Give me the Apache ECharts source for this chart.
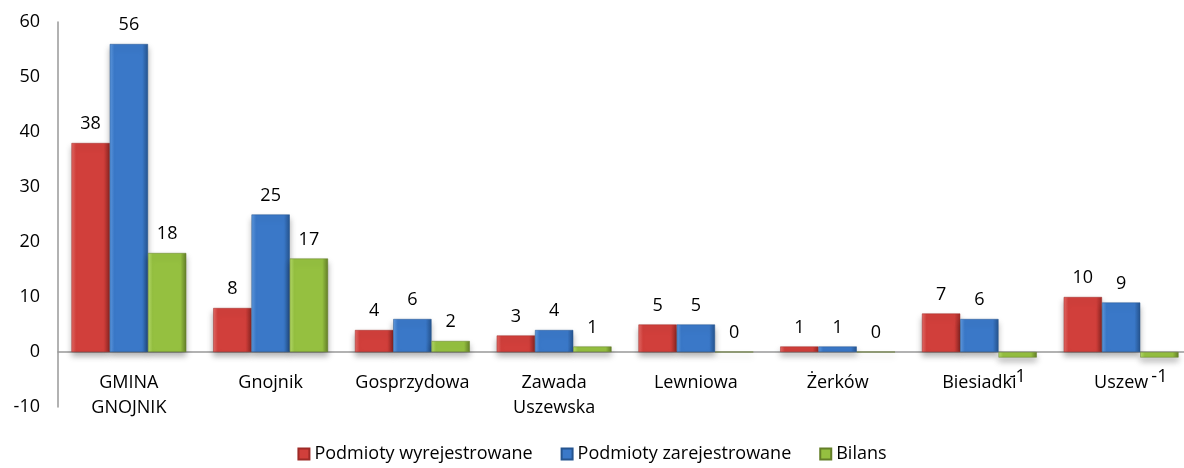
<!DOCTYPE html>
<html>
<head>
<meta charset="utf-8">
<script src="https://cdn.jsdelivr.net/npm/echarts@6/dist/echarts.min.js"></script>
<style>
html,body{margin:0;padding:0;background:#fff;}
#chart{width:1184px;height:468px;}
</style>
</head>
<body>
<div id="chart"></div>
<script>
const categories = ['GMINA\nGNOJNIK', 'Gnojnik', 'Gosprzydowa', 'Zawada\nUszewska', 'Lewniowa', 'Żerków', 'Biesiadki', 'Uszew'];
const wyrejestrowane = [38, 8, 4, 3, 5, 1, 7, 10];
const zarejestrowane = [56, 25, 6, 4, 5, 1, 6, 9];
const bilans = [18, 17, 2, 1, 0, 0, -1, -1];
const seriesNames = ['Podmioty wyrejestrowane', 'Podmioty zarejestrowane', 'Bilans'];
const yTicks = { min: -10, max: 60, interval: 10 };

const FONT = '"Open Sans", "Noto Sans", sans-serif';
const FS = 18;
const GRID_TOP = 22, GRID_H = 385;
const zeroOffset = -GRID_H * (0 - yTicks.min) / (yTicks.max - yTicks.min);

function grad(light, mid, dark) {
  return new echarts.graphic.LinearGradient(0, 0, 1, 0, [
    { offset: 0, color: light },
    { offset: 0.12, color: mid },
    { offset: 0.85, color: mid },
    { offset: 1, color: dark }
  ]);
}
const styles = [
  { fill: grad('#e46a66', '#d13f3b', '#9e2a27'), border: '#9e2a27', icon: '#d13f3b' },
  { fill: grad('#5f9ae0', '#3a78c8', '#25548f'), border: '#25548f', icon: '#3a78c8' },
  { fill: grad('#b5dc6a', '#95c040', '#647f28'), border: '#647f28', icon: '#95c040' }
];

function makeData(arr) {
  return arr.map(v => ({
    value: v,
    label: { position: v < 0 ? 'bottom' : 'top', distance: v < 0 ? 10 : 10 }
  }));
}

const seriesData = [wyrejestrowane, zarejestrowane, bilans];
const series = seriesData.map((arr, i) => ({
  name: seriesNames[i],
  type: 'bar',
  data: makeData(arr),
  barGap: '0%',
  barCategoryGap: '19%',
  itemStyle: {
    color: styles[i].fill,
    borderColor: styles[i].border,
    borderWidth: 0.5,
    shadowBlur: 6,
    shadowColor: 'rgba(0,0,0,0.3)',
    shadowOffsetY: 4
  },
  label: {
    show: true,
    color: '#000',
    fontSize: FS,
    fontFamily: FONT
  }
}));

const chart = echarts.init(document.getElementById('chart'), null, { renderer: 'canvas' });
chart.setOption({
  animation: false,
  backgroundColor: '#fff',
  color: styles.map(s => s.icon),
  textStyle: { fontFamily: FONT },
  grid: { left: 58, top: GRID_TOP, width: 1134, height: GRID_H, containLabel: false, outerBoundsMode: 'none' },
  legend: {
    bottom: 0,
    left: 'center',
    itemWidth: 11,
    itemHeight: 11,
    itemGap: 28,
    icon: 'rect',
    textStyle: { fontSize: FS, color: '#000', fontFamily: FONT },
    data: seriesNames
  },
  xAxis: {
    type: 'category',
    data: categories,
    position: 'bottom',
    offset: zeroOffset,
    axisLine: { onZero: false, lineStyle: { color: '#999', width: 1.5 } },
    axisTick: { show: false },
    axisLabel: { fontSize: FS, color: '#000', margin: 18, lineHeight: 25, interval: 0, fontFamily: FONT }
  },
  yAxis: {
    type: 'value',
    min: yTicks.min,
    max: yTicks.max,
    interval: yTicks.interval,
    axisLine: { show: true, lineStyle: { color: '#999', width: 1.5 } },
    axisTick: { show: false },
    splitLine: { show: false },
    axisLabel: { fontSize: FS, color: '#000', margin: 18, fontFamily: FONT }
  },
  series: series
});
</script>
</body>
</html>
